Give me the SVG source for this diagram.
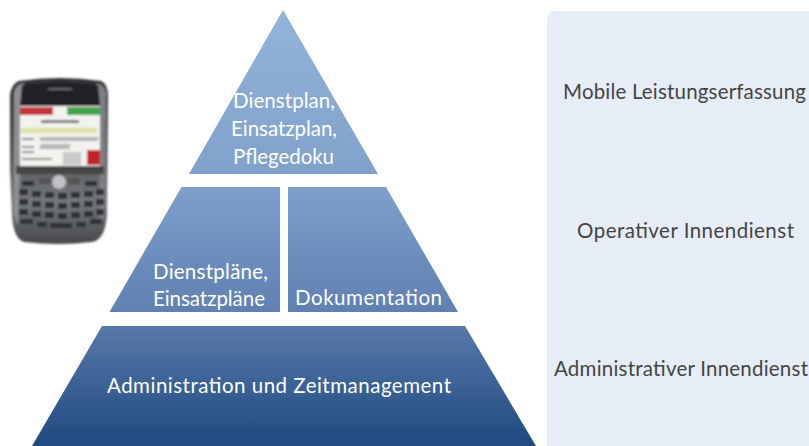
<svg xmlns="http://www.w3.org/2000/svg" width="809" height="446" viewBox="0 0 809 446">
<style>
text{font-family:Lato,"Liberation Sans",sans-serif;font-size:20.5px}
.w{fill:#fff}
.d{fill:#454545}
.k{fill:#2e3034}
</style>
<defs>
<linearGradient id="g1" gradientUnits="userSpaceOnUse" x1="0" y1="10" x2="0" y2="174"><stop offset="0" stop-color="#94b3d9"/><stop offset="1" stop-color="#80a1cb"/></linearGradient>
<linearGradient id="g2" gradientUnits="userSpaceOnUse" x1="0" y1="187" x2="0" y2="312"><stop offset="0" stop-color="#7fa0cb"/><stop offset="1" stop-color="#5f80b1"/></linearGradient>
<linearGradient id="g3" gradientUnits="userSpaceOnUse" x1="0" y1="326" x2="0" y2="446"><stop offset="0" stop-color="#5878a9"/><stop offset="1" stop-color="#1f4a80"/></linearGradient>
<linearGradient id="ph" x1="0" y1="0" x2="0" y2="1"><stop offset="0" stop-color="#303236"/><stop offset=".4" stop-color="#4c4e52"/><stop offset=".75" stop-color="#77797d"/><stop offset="1" stop-color="#46484b"/></linearGradient>
<filter id="bl" x="-5%" y="-5%" width="110%" height="110%"><feGaussianBlur stdDeviation="0.9"/></filter>
</defs>
<rect width="809" height="446" fill="#fff"/>
<g id="panel"><rect x="547" y="11" width="290" height="460" rx="7" fill="#e6edf6"/></g>
<g id="phone" filter="url(#bl)">
<path d="M19 81Q60 75 101 81Q108 84 108 96L107 215Q105 240 92 242Q58 246 24 242Q13 238 12 215L10 170L10 96Q11 84 19 81Z" fill="url(#ph)"/>
<path d="M14 92Q16 84 24 83L22 105L20 170L18 225L14 215Z" fill="#8d8f92"/>
<path d="M106 92Q104 84 96 83L98 105L100 170L100 225L105 215Z" fill="#7d7f82"/>
<path d="M22 85Q60 80 98 85L100 106H20Z" fill="#232427"/>
<rect x="48" y="88" width="24" height="2" fill="#66686b"/>
<rect x="20" y="106" width="80" height="60" fill="#f2f2ee"/>
<rect x="20" y="107" width="33" height="8" fill="#c4333a"/>
<rect x="67" y="107" width="33" height="8" fill="#3fa548"/>
<rect x="41" y="120" width="38" height="3" fill="#777"/>
<rect x="21" y="128" width="76" height="5" fill="#dfe1a6"/>
<rect x="40" y="137" width="58" height="4" fill="#b5b7b8"/>
<rect x="40" y="144" width="30" height="5" fill="#b5b7b8"/>
<rect x="22" y="138" width="12" height="2" fill="#888"/>
<rect x="22" y="146" width="12" height="2" fill="#888"/>
<rect x="22" y="151" width="12" height="2" fill="#888"/>
<rect x="22" y="158" width="30" height="2" fill="#888"/>
<rect x="63" y="152" width="18" height="13" fill="#c9cacb"/>
<rect x="87" y="150" width="13" height="15" fill="#c4212a"/>
<rect x="16" y="166" width="88" height="8" fill="#444"/>
<ellipse cx="59" cy="182" rx="7" ry="7" fill="#bfc1c4"/>
<rect x="39" y="178" width="12" height="6" fill="#555"/>
<rect x="68" y="178" width="12" height="6" fill="#555"/>
<rect x="22" y="181" width="12" height="5" class="k"/>
<rect x="85" y="181" width="12" height="5" class="k"/>
<g>
<rect x="19" y="189" width="9" height="6" class="k"/><rect x="32" y="191" width="9" height="6" class="k"/><rect x="45" y="192" width="9" height="6" class="k"/><rect x="58" y="193" width="9" height="6" class="k"/><rect x="71" y="192" width="9" height="6" class="k"/><rect x="84" y="191" width="9" height="6" class="k"/><rect x="96" y="189" width="8" height="6" class="k"/>
<rect x="19" y="199" width="9" height="6" class="k"/><rect x="32" y="201" width="9" height="6" class="k"/><rect x="45" y="202" width="9" height="6" class="k"/><rect x="58" y="203" width="9" height="6" class="k"/><rect x="71" y="202" width="9" height="6" class="k"/><rect x="84" y="201" width="9" height="6" class="k"/><rect x="96" y="199" width="8" height="6" class="k"/>
<rect x="19" y="209" width="9" height="6" class="k"/><rect x="32" y="211" width="9" height="6" class="k"/><rect x="45" y="212" width="9" height="6" class="k"/><rect x="58" y="213" width="9" height="6" class="k"/><rect x="71" y="212" width="9" height="6" class="k"/><rect x="84" y="211" width="9" height="6" class="k"/><rect x="96" y="209" width="8" height="6" class="k"/>
<rect x="20" y="219" width="13" height="5" class="k"/><rect x="37" y="222" width="10" height="5" class="k"/><rect x="50" y="223" width="22" height="5" class="k"/><rect x="76" y="222" width="10" height="5" class="k"/><rect x="90" y="219" width="12" height="5" class="k"/>
</g>
</g>
<g id="top"><polygon points="283,10 378,174 189,174" fill="url(#g1)"/>
<text class="w" x="233" y="108" textLength="102">Dienstplan,</text>
<text class="w" x="231" y="136" textLength="106">Einsatzplan,</text>
<text class="w" x="233" y="164" textLength="101">Pflegedoku</text></g>
<g id="midleft"><polygon points="181.500,187 280,187 280,312 109.500,312" fill="url(#g2)"/>
<text class="w" x="153" y="279" textLength="115">Dienstpläne,</text>
<text class="w" x="153" y="306" textLength="112">Einsatzpläne</text></g>
<g id="midright"><polygon points="288,187 386,187 458,312 288,312" fill="url(#g2)"/>
<text class="w" x="295" y="305" textLength="147">Dokumentation</text></g>
<g id="base"><polygon points="102,326 465,326 536,446 32,446" fill="url(#g3)"/>
<text class="w" x="107" y="393" textLength="344">Administration und Zeitmanagement</text></g>
<g id="labels">
<text class="d" x="563" y="99" textLength="243">Mobile Leistungserfassung</text>
<text class="d" x="577" y="238" textLength="217">Operativer Innendienst</text>
<text class="d" x="554" y="376" textLength="254">Administrativer Innendienst</text>
</g>
</svg>
